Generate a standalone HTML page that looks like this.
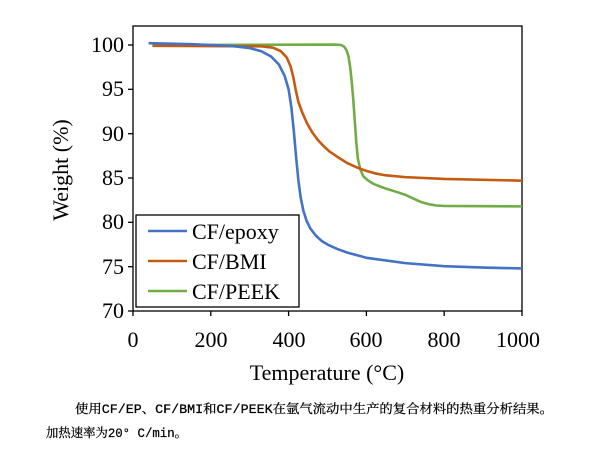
<!DOCTYPE html>
<html><head><meta charset="utf-8"><style>
html,body{margin:0;padding:0;background:#fff;}
svg{display:block}
</style></head><body>
<svg width="600" height="449" xmlns="http://www.w3.org/2000/svg" font-family="Liberation Serif, serif">
<rect width="600" height="449" fill="#fff"/>
<rect x="133" y="26" width="389" height="285" fill="none" stroke="#000" stroke-width="1.3"/>
<g stroke="#000" stroke-width="1.3">
<line x1="128" y1="45" x2="133" y2="45"/><line x1="128" y1="89.3" x2="133" y2="89.3"/>
<line x1="128" y1="133.7" x2="133" y2="133.7"/><line x1="128" y1="178" x2="133" y2="178"/>
<line x1="128" y1="222.3" x2="133" y2="222.3"/><line x1="128" y1="266.7" x2="133" y2="266.7"/>
<line x1="128" y1="311" x2="133" y2="311"/>
<line x1="133" y1="311" x2="133" y2="316"/><line x1="210.8" y1="311" x2="210.8" y2="316"/>
<line x1="288.6" y1="311" x2="288.6" y2="316"/><line x1="366.4" y1="311" x2="366.4" y2="316"/>
<line x1="444.2" y1="311" x2="444.2" y2="316"/><line x1="522" y1="311" x2="522" y2="316"/>
</g>
<g font-size="22" text-anchor="end" fill="#000">
<text x="124" y="52">100</text><text x="124" y="96">95</text><text x="124" y="141">90</text>
<text x="124" y="185">85</text><text x="124" y="229">80</text><text x="124" y="274">75</text>
<text x="124" y="318">70</text>
</g>
<g font-size="22" text-anchor="middle" fill="#000">
<text x="133" y="347">0</text><text x="211" y="347">200</text><text x="289" y="347">400</text>
<text x="366" y="347">600</text><text x="444" y="347">800</text><text x="518" y="347">1000</text>
</g>
<text x="327" y="380" font-size="22" text-anchor="middle">Temperature  (°C)</text>
<text transform="translate(68,170) rotate(-90)" font-size="22" text-anchor="middle">Weight  (%)</text>
<g transform="translate(133,45) scale(0.389,8.867)" fill="none" stroke-width="2.6" stroke-linejoin="round">
<polyline vector-effect="non-scaling-stroke" stroke="#70ad47" points="50,0 520,-0.05 535,0 543,0.2 549,0.6 554,1.3 558,2.4 562,4 566,6 570,8.5 574,11 578,12.8 584,14 592,14.8 605,15.3 620,15.7 650,16.2 680,16.6 700,16.9 720,17.3 740,17.7 760,17.95 780,18.1 800,18.15 1000,18.2"/>
<polyline vector-effect="non-scaling-stroke" stroke="#c55a11" points="50,0.1 330,0.15 360,0.3 380,0.7 395,1.4 405,2.4 412,3.6 418,5 425,6.4 435,7.6 447,8.8 460,9.8 475,10.7 490,11.4 505,12 525,12.6 550,13.3 575,13.8 600,14.2 625,14.5 650,14.7 700,14.9 800,15.1 1000,15.3"/>
<polyline vector-effect="non-scaling-stroke" stroke="#4472c4" points="40,-0.2 150,-0.1 250,0.1 300,0.35 330,0.7 355,1.3 375,2.2 390,3.5 400,5 407,7 413,9.5 419,12.5 425,15.2 431,17.2 438,18.7 446,19.8 456,20.7 470,21.5 485,22.1 500,22.5 525,23 550,23.4 575,23.7 600,24 650,24.3 700,24.6 800,24.95 900,25.1 1000,25.2"/>
</g>
<rect x="136" y="215" width="163" height="92" fill="#fff" stroke="#000" stroke-width="1.3"/>
<g stroke-width="2.6">
<line x1="148" y1="231" x2="187" y2="231" stroke="#4472c4"/>
<line x1="148" y1="261" x2="187" y2="261" stroke="#c55a11"/>
<line x1="148" y1="291" x2="187" y2="291" stroke="#70ad47"/>
</g>
<g font-size="22" fill="#000">
<text x="192" y="239">CF/epoxy</text><text x="192" y="269">CF/BMI</text><text x="192" y="299">CF/PEEK</text>
</g>
<g font-family="Liberation Mono, 'Noto Serif CJK SC', serif" font-size="12.5" fill="#000" stroke="#000" stroke-width="0.25">
<text x="75" y="413" textLength="478" lengthAdjust="spacingAndGlyphs">使用CF/EP、CF/BMI和CF/PEEK在氩气流动中生产的复合材料的热重分析结果。</text>
<text x="46" y="437" textLength="141" lengthAdjust="spacingAndGlyphs">加热速率为20° C/min。</text>
</g>
</svg>
</body></html>
